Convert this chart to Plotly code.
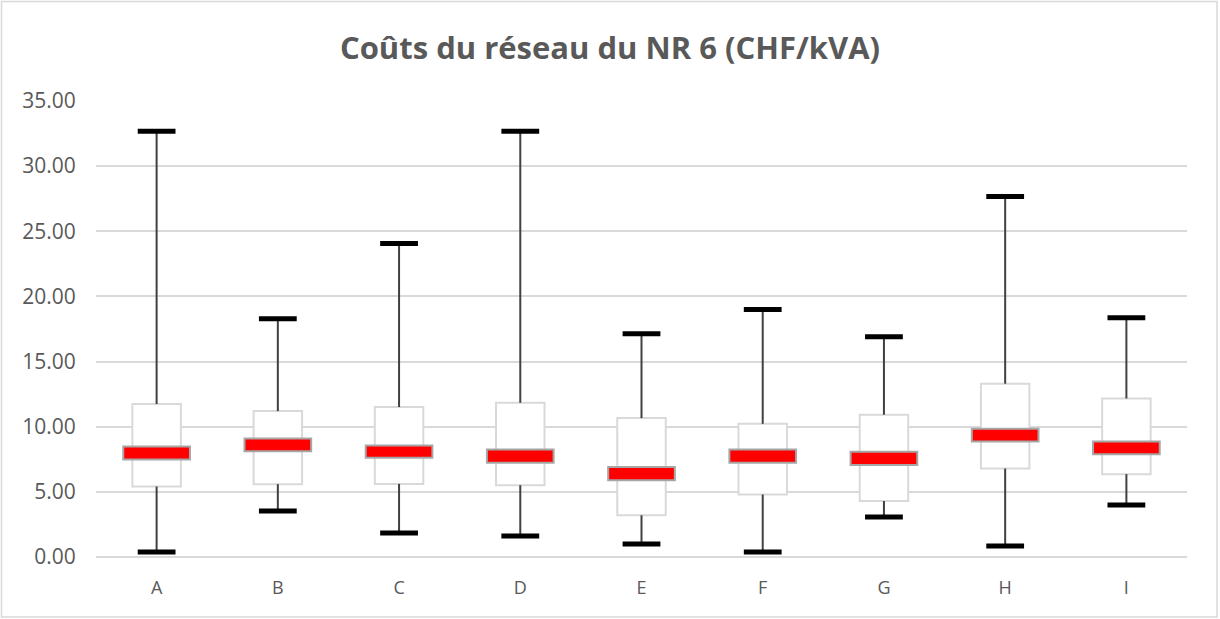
import plotly.graph_objects as go

categories = ["A", "B", "C", "D", "E", "F", "G", "H", "I"]
whisker_min = [0.38, 3.54, 1.85, 1.62, 1.00, 0.38, 3.07, 0.85, 4.00]
q1 = [5.41, 5.59, 5.61, 5.51, 3.20, 4.79, 4.30, 6.79, 6.36]
median_lo = [7.48, 8.12, 7.61, 7.23, 5.90, 7.23, 7.07, 8.87, 7.89]
median_hi = [8.48, 9.10, 8.56, 8.26, 6.90, 8.26, 8.07, 9.84, 8.87]
q3 = [11.74, 11.20, 11.51, 11.84, 10.66, 10.22, 10.92, 13.30, 12.17]
whisker_max = [32.67, 18.29, 24.06, 32.67, 17.14, 18.99, 16.91, 27.67, 18.37]
y_ticks = [0, 5, 10, 15, 20, 25, 30, 35]

FONT = "Open Sans"
GRAY_TXT = "#595959"

fig = go.Figure()

# whiskers (upper and lower) drawn as error bars from box edges
fig.add_trace(go.Scatter(
    x=categories, y=q3, mode="markers",
    marker=dict(size=1, opacity=0),
    error_y=dict(type="data", symmetric=False,
                 array=[mx - q for mx, q in zip(whisker_max, q3)],
                 arrayminus=[0] * len(categories),
                 width=0, thickness=2, color="#404040"),
    hoverinfo="skip", showlegend=False))
fig.add_trace(go.Scatter(
    x=categories, y=q1, mode="markers",
    marker=dict(size=1, opacity=0),
    error_y=dict(type="data", symmetric=False,
                 array=[0] * len(categories),
                 arrayminus=[q - mn for q, mn in zip(q1, whisker_min)],
                 width=0, thickness=2, color="#404040"),
    hoverinfo="skip", showlegend=False))

# box (Q1 -> Q3)
fig.add_trace(go.Bar(
    x=categories, base=q1, y=[b - a for a, b in zip(q1, q3)],
    width=0.4, marker=dict(color="white", line=dict(color="#d9d9d9", width=2)),
    showlegend=False))

# median band
fig.add_trace(go.Bar(
    x=categories, base=median_lo, y=[b - a for a, b in zip(median_lo, median_hi)],
    width=0.55, marker=dict(color="#ff0000", line=dict(color="#a6a6a6", width=2)),
    showlegend=False))

# caps
fig.add_trace(go.Scatter(
    x=categories + categories, y=whisker_max + whisker_min, mode="markers",
    marker=dict(symbol="line-ew", size=27, line=dict(width=5, color="#000000")),
    showlegend=False))

fig.update_layout(
    width=1220, height=619,
    barmode="overlay",
    paper_bgcolor="white", plot_bgcolor="white",
    margin=dict(l=96, r=33, t=101, b=62, autoexpand=False),
    title=dict(text="<b>Coûts du réseau du NR 6 (CHF/kVA)</b>",
               font=dict(family=FONT, size=31, color=GRAY_TXT),
               x=0.5, xanchor="center", y=1 - 48 / 619, yanchor="middle",
               automargin=False),
    font=dict(family=FONT, color=GRAY_TXT),
    showlegend=False,
)
fig.update_xaxes(
    type="category", range=[-0.5, len(categories) - 0.5],
    showgrid=False, showline=False, zeroline=False,
    tickfont=dict(family=FONT, size=18, color=GRAY_TXT),
    ticks="outside", ticklen=14, tickcolor="rgba(0,0,0,0)",
    automargin=False,
)
fig.update_yaxes(
    range=[0, 35], tickvals=y_ticks, tickformat=".2f",
    showgrid=True, gridcolor="#d9d9d9", gridwidth=1.5,
    zeroline=True, zerolinecolor="#d9d9d9", zerolinewidth=1.5,
    showline=False,
    tickfont=dict(family=FONT, size=21, color=GRAY_TXT),
    ticks="outside", ticklen=15, tickcolor="rgba(0,0,0,0)",
    automargin=False,
)

# chart outer border
fig.add_shape(type="rect", xref="paper", yref="paper",
              x0=(1.5 - 96) / 1091, x1=(1217 - 96) / 1091,
              y0=(557 - 617) / 456, y1=(557 - 1.5) / 456,
              line=dict(color="#d9d9d9", width=1.5), fillcolor="rgba(0,0,0,0)",
              layer="below")

fig.write_html("out.html", config={"displayModeBar": False},
               post_script="document.body.style.margin='0';document.body.style.overflow='hidden';")
